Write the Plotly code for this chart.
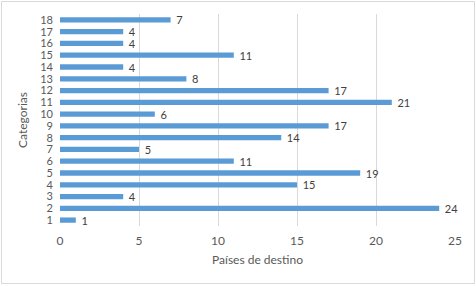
import plotly.graph_objects as go

categories = [str(i) for i in range(1, 19)]
values = [1, 24, 4, 15, 19, 11, 5, 14, 17, 6, 21, 17, 8, 4, 11, 4, 4, 7]
x_ticks = [0, 5, 10, 15, 20, 25]

L, R, T, B = 60, 21, 14, 60
W, H = 476, 286
pw, ph = W - L - R, H - T - B

def px_to_paper_x(px):
    return (px - L) / pw

def px_to_paper_y(py):
    return (H - B - py) / ph

fig = go.Figure(go.Bar(
    x=values, y=categories, orientation="h",
    marker=dict(color="#5B9BD5", line=dict(width=0)),
    width=0.45,
    text=["\u00a0\u00a0" + str(v) for v in values], textposition="outside",
    constraintext="none",
    textfont=dict(family="Lato, Open Sans, sans-serif", size=11, color="#404040"),
    cliponaxis=False,
    hoverinfo="skip",
))

fig.update_layout(
    width=W, height=H,
    margin=dict(l=L, r=R, t=T, b=B, autoexpand=False),
    paper_bgcolor="white", plot_bgcolor="white",
    showlegend=False,
    font=dict(family="Lato, Open Sans, sans-serif", color="#595959", size=11),
    xaxis=dict(
        range=[0, 25], tickvals=x_ticks, showgrid=True, gridcolor="#D9D9D9", gridwidth=1,
        zeroline=False, showline=False, ticks="", automargin=False,
        ticklabelstandoff=6,
        title=dict(text="Países de destino", font=dict(size=12, color="#595959"), standoff=8),
        tickfont=dict(size=12, color="#595959"),
    ),
    yaxis=dict(
        type="category", categoryorder="array", categoryarray=categories,
        tickmode="array", tickvals=categories, ticktext=categories,
        showgrid=False, zeroline=False, showline=False, ticks="", automargin=False,
        ticklabelstandoff=6,
        title=dict(text="Categorias", font=dict(size=12, color="#595959"), standoff=10),
        tickfont=dict(size=11, color="#595959"),
        range=[-0.5, 17.5],
    ),
    shapes=[dict(
        type="rect", xref="paper", yref="paper",
        x0=px_to_paper_x(1.5), x1=px_to_paper_x(474.5),
        y0=px_to_paper_y(283.5), y1=px_to_paper_y(1.5),
        line=dict(color="#D9D9D9", width=1), fillcolor="rgba(0,0,0,0)", layer="below",
    )],
)

fig.write_html("out.html", config={"displayModeBar": False},
               post_script="document.body.style.margin='0';document.body.style.overflow='hidden';")
